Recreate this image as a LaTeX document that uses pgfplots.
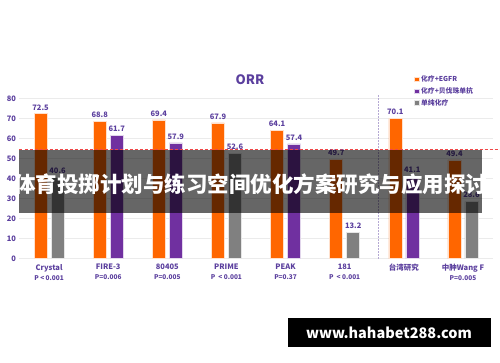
\documentclass[border=0pt]{standalone}
\usepackage{fontspec}
\setmainfont{Noto Sans CJK SC}
\usepackage{pgfplots}
\pgfplotsset{compat=1.18}
\definecolor{cOr}{HTML}{FF6600}
\definecolor{cPu}{HTML}{7030A0}
\definecolor{cGr}{HTML}{808080}
\definecolor{cTx}{HTML}{5B3F9E}
\definecolor{cRed}{HTML}{F04848}
\begin{document}
\begin{tikzpicture}
\path[fill=white, use as bounding box] (0,0) rectangle (500pt,-362pt);
\begin{axis}[
  at={(19.5pt,-258.7pt)}, anchor=south west,
  scale only axis, width=473pt, height=160pt,
  xmin=-0.5, xmax=7.5, ymin=0, ymax=80,
  clip=false,
  /pgf/number format/assume math mode=true,
  ytick={0,10,...,80},
  xtick={0,...,7},
  xticklabels={
    {Crystal\\[1pt]{\fontsize{6.5}{7}\selectfont P < 0.001}},
    {FIRE-3\\[1pt]{\fontsize{6.5}{7}\selectfont P=0.006}},
    {80405\\[1pt]{\fontsize{6.5}{7}\selectfont P=0.005}},
    {PRIME\\[1pt]{\fontsize{6.5}{7}\selectfont P\ \ < 0.001}},
    {PEAK\\[1pt]{\fontsize{6.5}{7}\selectfont P=0.37}},
    {181\\[1pt]{\fontsize{6.5}{7}\selectfont P\ \ < 0.001}},
    {台湾研究},
    {中肿Wang F\\[1pt]{\fontsize{6.5}{7}\selectfont P=0.005}}
  },
  xticklabel style={align=center, font=\bfseries\fontsize{7.5}{9}\selectfont, text=cTx, yshift=-2pt},
  yticklabel style={font=\bfseries\fontsize{7.5}{9}\selectfont, text=cTx},
  axis line style={draw=none},
  tick style={draw=none},
  ymajorgrids, grid style={color=black!8, line width=0.6pt},
  nodes near coords,
  nodes near coords style={font=\bfseries\fontsize{7.5}{9}\selectfont, text=cTx, /pgf/number format/.cd, fixed, precision=1, fixed zerofill},
  legend style={at={(0.834,1.157)}, anchor=north west, draw=none, fill=none,
    font=\bfseries\fontsize{6.8}{8}\selectfont, text=cTx, inner sep=0pt, row sep=0.3pt,
    cells={anchor=west}},
  legend image code/.code={\fill[#1] (0pt,-2.2pt) rectangle (4.5pt,2.3pt);},
]
\addplot[ybar, bar width=13pt, bar shift=0pt, fill=cOr, draw=cOr!20!white, line width=0.5pt]
  coordinates {(-0.144,72.5) (0.856,68.8) (1.856,69.4) (2.856,67.9) (3.856,64.1) (4.856,49.7) (5.856,70.1) (6.856,49.4)};
\addplot[ybar, bar width=13pt, bar shift=0pt, fill=cPu, draw=cPu!20!white, line width=0.5pt]
  coordinates {(1.144,61.7) (2.144,57.9) (4.144,57.4) (6.144,41.1)};
\addplot[ybar, bar width=13pt, bar shift=0pt, fill=cGr, draw=cGr!20!white, line width=0.5pt]
  coordinates {(0.144,40.6) (3.144,52.6) (5.144,13.2) (7.144,28.6)};
\legend{化疗+EGFR, 化疗+贝伐珠单抗, 单纯化疗}
\addplot[forget plot, nodes near coords={}, color=cRed, line width=0.7pt, dash pattern=on 3pt off 2pt]
  coordinates {(-0.5,54.8) (7.62,54.8)};
\addplot[forget plot, nodes near coords={}, color=cTx!45, line width=0.5pt, densely dotted]
  coordinates {(5.57,0) (5.57,81.8)};
\end{axis}
\node[font=\bfseries\fontsize{13}{14}\selectfont, text=cTx] at (250pt,-80pt) {ORR};
\fill[black, opacity=0.6] (19pt,-150pt) rectangle (482pt,-213pt);
\node[font=\bfseries\fontsize{21.5}{24}\selectfont, text=white] at (250.5pt,-184pt) {体育投掷计划与练习空间优化方案研究与应用探讨};
\fill[black] (288pt,-318pt) rectangle (491pt,-347pt);
\node[font=\bfseries\fontsize{14.5}{16}\selectfont, text=white] at (389pt,-332.5pt) {www.hahabet288.com};
\end{tikzpicture}
\end{document}
